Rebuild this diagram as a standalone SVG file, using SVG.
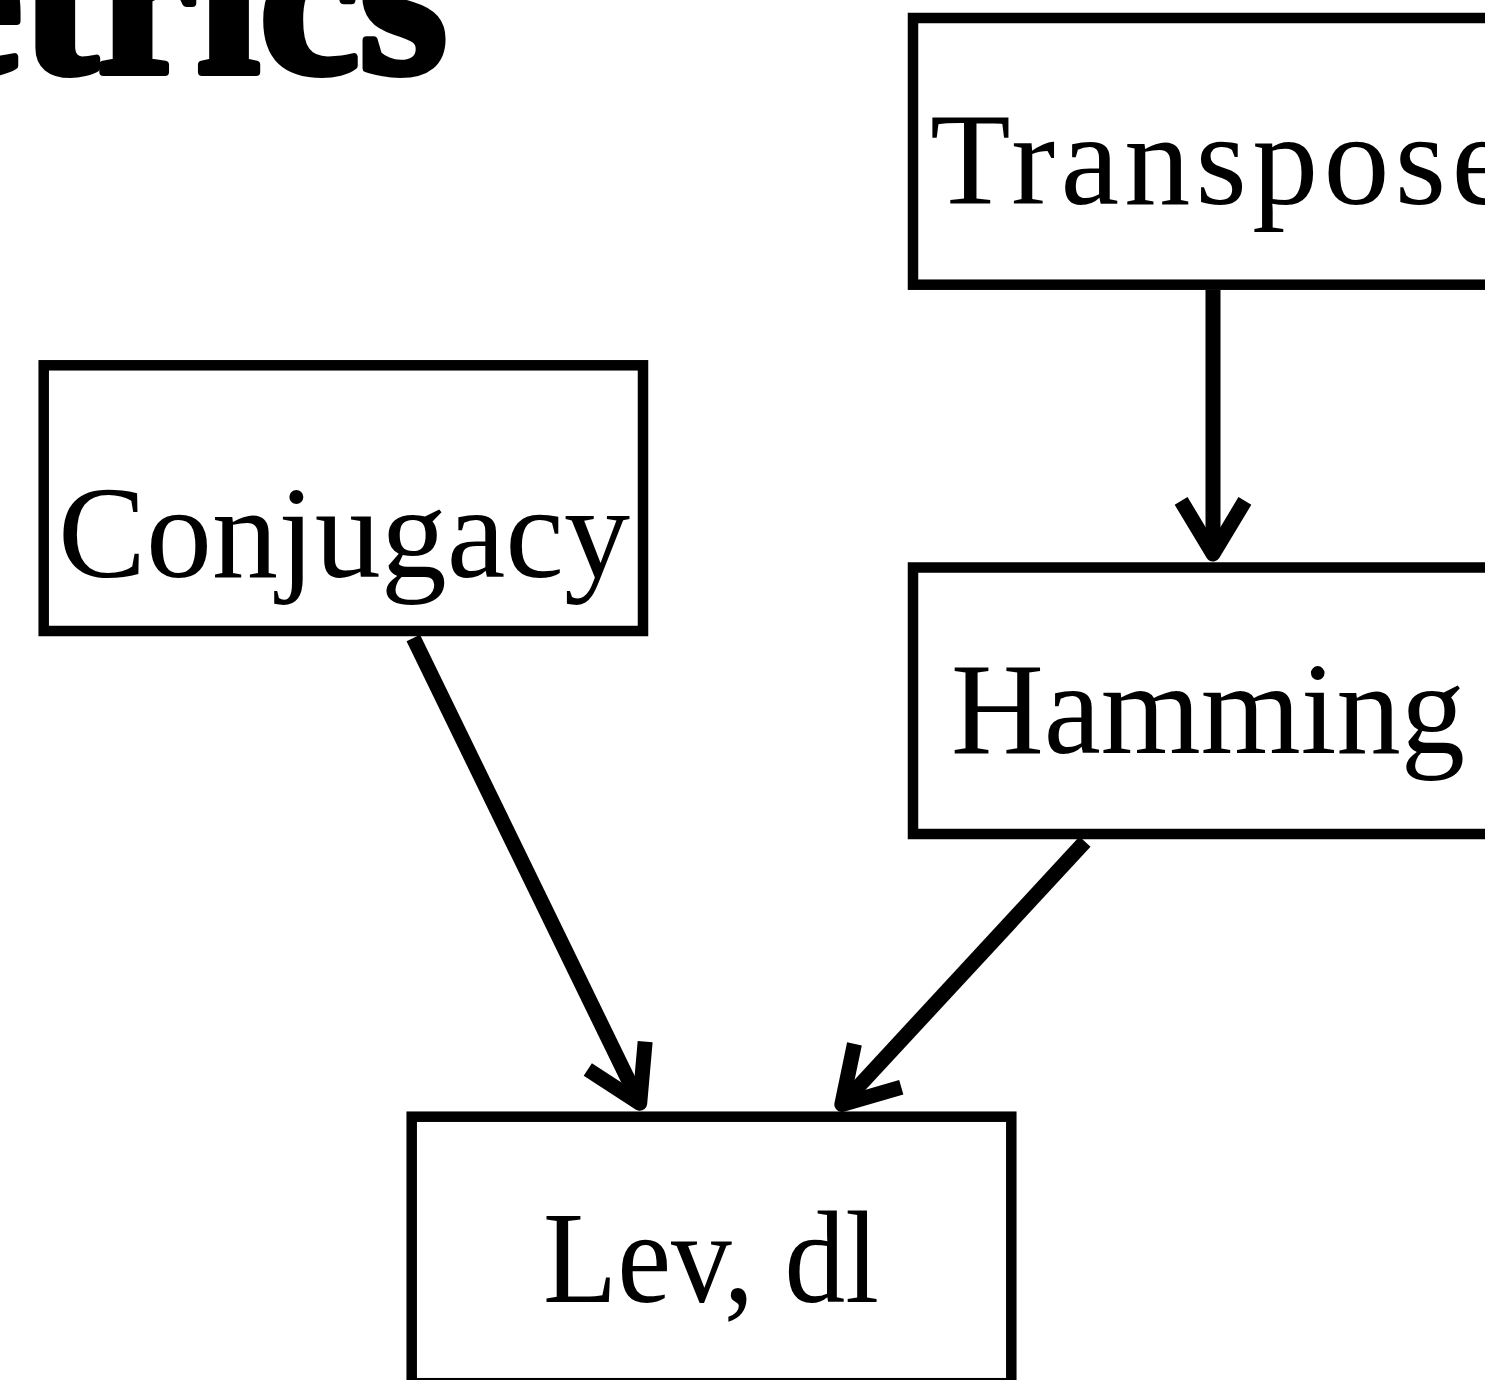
<svg xmlns="http://www.w3.org/2000/svg" width="1485" height="1380" viewBox="0 0 1485 1380">
  <style>
    .box { fill: #ffffff; stroke: #000000; stroke-width: 10.5; }
    .lbl { font-family: "Liberation Serif", "Times New Roman", serif; font-size: 132px; fill: #000000; }
    .title { font-family: "Liberation Serif", "Times New Roman", serif; font-size: 225px; font-weight: bold; fill: #000000; stroke: #000000; stroke-width: 8; stroke-linejoin: round; }
    .edge { fill: none; stroke: #000000; stroke-width: 15; stroke-linecap: butt; }
  </style>
  <defs>
    <marker id="chev" markerUnits="userSpaceOnUse" markerWidth="10" markerHeight="10" refX="0" refY="0" orient="auto" overflow="visible">
      <path d="M -53.1,-31.9 L 0,0 L -53.1,31.9" fill="none" stroke="#000000" stroke-width="15" stroke-linejoin="round" stroke-linecap="butt"/>
    </marker>
  </defs>
  <rect x="0" y="0" width="1485" height="1380" fill="#ffffff"/>

  <g id="title">
    <text class="title" x="447" y="72" text-anchor="end">Metrics</text>
  </g>

  <g id="connectors">
    <line class="edge" x1="1213" y1="290" x2="1213" y2="554" marker-end="url(#chev)"/>
    <line class="edge" x1="413.3" y1="638" x2="639.7" y2="1103.3" marker-end="url(#chev)"/>
    <line class="edge" x1="1085" y1="841.7" x2="841.8" y2="1104.5" marker-end="url(#chev)"/>
  </g>

  <g id="node-transpose">
    <rect class="box" x="913" y="18" width="600" height="266.7"/>
    <text class="lbl" x="930" y="204" textLength="580">Transpose</text>
  </g>

  <g id="node-conjugacy">
    <rect class="box" x="43.7" y="365.3" width="599.3" height="265.7"/>
    <text class="lbl" x="58" y="577">Conjugacy</text>
  </g>

  <g id="node-hamming">
    <rect class="box" x="913" y="567.5" width="600" height="266.5"/>
    <text class="lbl" x="951" y="753" textLength="514" lengthAdjust="spacingAndGlyphs">Hamming</text>
  </g>

  <g id="node-lev">
    <rect class="box" x="411.7" y="1116.7" width="599.6" height="266.5"/>
    <text class="lbl" x="543" y="1302" textLength="336" lengthAdjust="spacingAndGlyphs">Lev, dl</text>
  </g>
</svg>
